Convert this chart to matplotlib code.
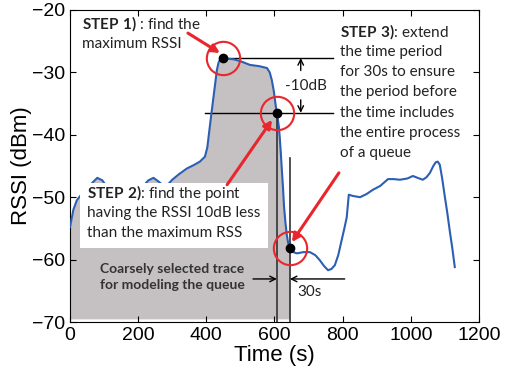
import numpy as np
import matplotlib
matplotlib.use('Agg')
import matplotlib.pyplot as plt
from matplotlib.patches import Rectangle

# RSSI trace
time_s = [0, 10, 20, 30, 45, 60, 80, 95, 110, 130, 150, 170, 190, 210, 230, 245,
          260, 275, 290, 300, 320, 343, 365, 381, 396, 403, 408, 414, 420, 426,
          431, 436, 440, 449, 460, 480, 500, 528, 555, 578, 586, 592, 598, 604,
          608, 613, 616, 619, 622, 625, 628, 632, 636, 640, 645, 655, 666, 685,
          704, 720, 733, 745, 757, 767, 777, 787, 797, 805, 812, 818, 830, 851,
          870, 889, 910, 933, 950, 968, 990, 1006, 1020, 1035, 1046, 1056, 1066,
          1073, 1079, 1085, 1092, 1100, 1107, 1114, 1122, 1129]
rssi_dbm = [-54.8, -52, -50.5, -49.8, -49, -48, -46.9, -47.3, -48.5, -49.5, -50,
            -50, -49.5, -48.5, -47.3, -46.9, -47.5, -48.2, -47.8, -47.2, -46.3,
            -45.4, -44.8, -44.3, -43.5, -42, -39.7, -37, -34.4, -31.8, -29.6,
            -28.4, -28, -27.7, -27.8, -27.9, -28.2, -28.8, -29, -29.3, -30, -31.2,
            -33, -35.5, -36.8, -38.8, -40.8, -43.3, -46, -48.5, -51.5, -54, -56,
            -57.3, -58.1, -58.8, -59, -58.8, -58.8, -59.3, -60.1, -61, -61.7,
            -61.5, -60.9, -59.3, -56.9, -55, -53.2, -49.6, -49.8, -50, -49.5,
            -48.8, -48.2, -47.1, -47.1, -47.2, -47, -46.6, -46.9, -47.2, -46.8,
            -46.1, -45, -44.4, -44.3, -44.8, -47, -50, -52.5, -55.3, -58.3, -61.2]

t_max = 449      # step 1
t_10db = 607     # step 2
t_end = 645      # step 3 (after extension)

t = np.array(time_s, dtype=float)
r = np.array(rssi_dbm, dtype=float)
y_max = np.interp(t_max, t, r)
y_10db = np.interp(t_10db, t, r)
y_end = np.interp(t_end, t, r)

red = '#e8262b'
blue = '#2b5fb4'
txt = '#222222'

plt.rcParams['mathtext.fontset'] = 'custom'
plt.rcParams['mathtext.rm'] = 'Lato'
plt.rcParams['mathtext.bf'] = 'Lato:bold'

fig = plt.figure(figsize=(5.05, 3.73), dpi=100)
ax = fig.add_axes([0.1386, 0.1367, 0.8099, 0.8365])

sel = t <= t_end
ax.fill_between(t[sel], r[sel], -69.5, color='#c5c0c2', lw=0, zorder=1)
ax.plot(t, r, color=blue, lw=1.5, zorder=3)

# white box behind step 2 text
ax.add_patch(Rectangle((29, -58.1), 552, 10.4, facecolor='white', edgecolor='none', zorder=4))

# black guide lines
ax.plot([t_max, 771], [y_max, y_max], color='k', lw=1, zorder=2)
ax.plot([396, 771], [y_10db, y_10db], color='k', lw=1, zorder=2)
ax.plot([t_10db, t_10db], [y_10db, -70], color='#333333', lw=1.2, zorder=5)
ax.plot([t_end, t_end], [-43.7, -70], color='#333333', lw=1.2, zorder=5)

ax.annotate('', xy=(677, y_max), xytext=(677, -29.7),
            arrowprops=dict(arrowstyle='->', color='k', lw=1, shrinkA=0, shrinkB=0))
ax.annotate('', xy=(677, y_10db), xytext=(677, -34.4),
            arrowprops=dict(arrowstyle='->', color='k', lw=1, shrinkA=0, shrinkB=0))
ax.text(692, -32.2, '-10dB', family='Lato', fontsize=11, color=txt, ha='center', va='center')

ax.annotate('', xy=(t_10db, -63.1), xytext=(537, -63.1),
            arrowprops=dict(arrowstyle='->', color='k', lw=1, shrinkA=0, shrinkB=0), zorder=6)
ax.annotate('', xy=(t_end, -63.1), xytext=(806, -63.1),
            arrowprops=dict(arrowstyle='->', color='k', lw=1, shrinkA=0, shrinkB=0), zorder=6)
ax.text(668, -65.2, '30s', family='Lato', fontsize=11, color=txt, ha='left', va='center')

# key points and red circles
for tp, yp in [(t_max, y_max), (t_10db, y_10db), (t_end, y_end)]:
    ax.plot(tp, yp, 'o', color='k', ms=6, zorder=7)
    ax.plot(tp, yp, 'o', mfc='none', mec=red, mew=1.5, ms=24, zorder=7)

arw = dict(arrowstyle='-|>', color=red, lw=2.2, mutation_scale=12, shrinkA=0, shrinkB=0)
ax.annotate('', xy=(440, -26.9), xytext=(346, -23.7), arrowprops=arw, zorder=8)
ax.annotate('', xy=(593, -37.6), xytext=(461, -48.0), arrowprops=arw, zorder=8)
ax.annotate('', xy=(651, -57.2), xytext=(789, -46.1), arrowprops=arw, zorder=8)

# step texts
step1 = [r'$\mathbf{STEP\ 1)}$ : find the', 'maximum RSSI']
step2 = [r'$\mathbf{STEP\ 2)}$: find the point', 'having the RSSI 10dB less',
         'than the maximum RSS']
step3 = [r'$\mathbf{STEP\ 3)}$: extend', 'the time period', 'for 30s to ensure',
         'the period before', 'the time includes', 'the entire process', 'of a queue']
dy = 20.2 / 6.24
for i, s in enumerate(step1):
    ax.text(35, -22.2 - i * dy, s, family='Lato', fontsize=11, color=txt, va='center', zorder=9)
for i, s in enumerate(step2):
    ax.text(50, -49.3 - i * dy, s, family='Lato', fontsize=11, color=txt, va='center', zorder=9)
for i, s in enumerate(step3):
    ax.text(792, -23.5 - i * dy, s, family='Lato', fontsize=11, color=txt, va='center', zorder=9)
ax.text(88, -62.8, 'Coarsely selected trace\nfor modeling the queue', family='Lato',
        fontsize=10, fontweight='bold', color='#333333', va='center', linespacing=1.35, zorder=9)

ax.set_xlim(0, 1200)
ax.set_ylim(-70, -20)
ax.set_xticks(range(0, 1201, 200))
ax.set_yticks(range(-70, -19, 10))
ax.tick_params(direction='in', top=True, right=True, length=4, labelsize=14)
for lab in ax.get_xticklabels() + ax.get_yticklabels():
    lab.set_family('Liberation Sans')
ax.set_xlabel('Time (s)', family='Liberation Sans', fontsize=16, labelpad=1)
ax.set_ylabel('RSSI (dBm)', family='Liberation Sans', fontsize=16, labelpad=0)

plt.savefig('out.png', dpi=100)
